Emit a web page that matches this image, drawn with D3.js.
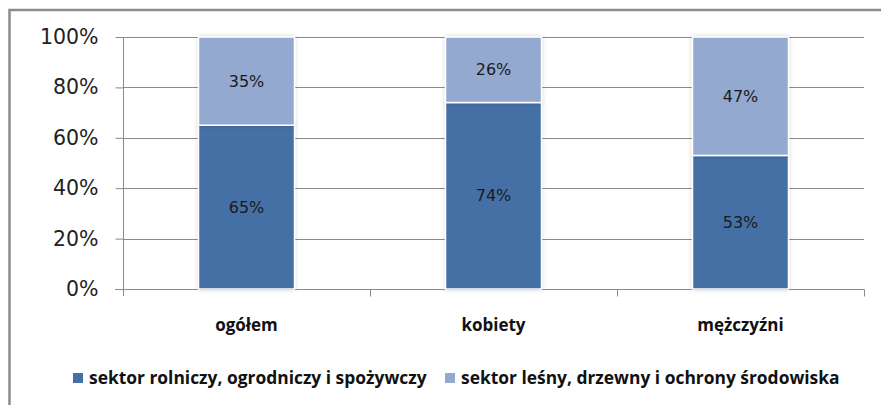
<!DOCTYPE html>
<html>
<head>
<meta charset="utf-8">
<script src="https://cdn.jsdelivr.net/npm/d3@7"></script>
<style>
  body { margin: 0; background: #fff; }
  svg { display: block; }
</style>
</head>
<body>
<div id="chart"></div>
<script>
// chart data
var categories = ['ogółem', 'kobiety', 'mężczyźni']
var seriesNames = ['sektor rolniczy, ogrodniczy i spożywczy', 'sektor leśny, drzewny i ochrony środowiska']
var rolniczy = [65, 74, 53]
var lesny = [35, 26, 47]
var yTicks = [0, 20, 40, 60, 80, 100]
var colors = ['#4470A6', '#93A9CF']

var width = 881, height = 405

var svg = d3.select('#chart').append('svg')
    .attr('width', width)
    .attr('height', height)

// soft shadow round the bars
var defs = svg.append('defs')
var f = defs.append('filter').attr('id', 'shadow')
    .attr('x', '-10%').attr('y', '-10%').attr('width', '120%').attr('height', '120%')
f.append('feDropShadow').attr('dx', 0).attr('dy', 0).attr('stdDeviation', 2)
    .attr('flood-color', '#000').attr('flood-opacity', 0.18)

// outer frame (bottom and right fall outside the picture)
svg.append('rect')
    .attr('x', 9.5).attr('y', 10).attr('width', 1000).attr('height', 500)
    .attr('fill', 'none').attr('stroke', '#8c8c8c').attr('stroke-width', 2.5)

var x = d3.scaleBand().domain(categories).range([123, 864]).paddingInner(0).paddingOuter(0)
var y = d3.scaleLinear().domain([0, 100]).range([289, 37])
var barW = 96

// gridlines
svg.append('g')
    .selectAll('line')
    .data(yTicks.slice(1))
    .enter()
    .append('line')
    .attr('x1', 123).attr('x2', 864)
    .attr('y1', function (d) { return Math.round(y(d)) + 0.5 })
    .attr('y2', function (d) { return Math.round(y(d)) + 0.5 })
    .attr('stroke', '#8a8a8a').attr('stroke-width', 1)

// y axis
var yAxis = svg.append('g')
    .attr('transform', 'translate(123.5,0)')
    .call(d3.axisLeft(y).tickValues(yTicks).tickSize(8).tickPadding(17)
        .tickFormat(function (d) { return d + '%' }))
yAxis.select('.domain').attr('stroke', '#8a8a8a').attr('d', 'M0,37V296')
yAxis.selectAll('.tick line').attr('stroke', '#8a8a8a')
yAxis.selectAll('text')
    .style('font-family', 'DejaVu Sans')
    .style('font-size', '20.5px')
    .attr('fill', '#222')

// x axis
var xAxis = svg.append('g')
    .attr('transform', 'translate(0,289.5)')
    .call(d3.axisBottom(x).tickSize(0).tickPadding(0).tickFormat(''))
xAxis.select('.domain').attr('stroke', '#8a8a8a').attr('d', 'M115,0H864')
xAxis.selectAll('.bnd')
    .data(categories)
    .enter()
    .append('line')
    .attr('x1', function (d) { return Math.round(x(d) + x.bandwidth()) + 0.5 })
    .attr('x2', function (d) { return Math.round(x(d) + x.bandwidth()) + 0.5 })
    .attr('y1', 0).attr('y2', 7)
    .attr('stroke', '#8a8a8a')

// category labels
svg.append('g')
    .selectAll('text')
    .data(categories)
    .enter()
    .append('text')
    .attr('x', function (d) { return x(d) + x.bandwidth() / 2 })
    .attr('y', 331)
    .attr('text-anchor', 'middle')
    .style('font-family', 'Open Sans')
    .style('font-weight', 'bold')
    .style('font-size', '17px')
    .attr('fill', '#111')
    .text(function (d) { return d })

// stacked bars
var rows = categories.map(function (c, i) { return { cat: c, a: rolniczy[i], b: lesny[i] } })
var stack = d3.stack().keys(['a', 'b'])(rows)

var bars = svg.append('g')
stack.forEach(function (layer, li) {
    bars.append('g')
        .selectAll('rect')
        .data(layer)
        .enter()
        .append('rect')
        .attr('x', function (d) { return x(d.data.cat) + x.bandwidth() / 2 - barW / 2 })
        .attr('y', function (d) { return y(d[1]) })
        .attr('width', barW)
        .attr('height', function (d) { return y(d[0]) - y(d[1]) })
        .attr('fill', colors[li])
        .attr('stroke', '#fff')
        .attr('stroke-width', 1.5)
        .attr('filter', 'url(#shadow)')
})

// value labels
stack.forEach(function (layer) {
    bars.append('g')
        .selectAll('text')
        .data(layer)
        .enter()
        .append('text')
        .attr('x', function (d) { return x(d.data.cat) + x.bandwidth() / 2 })
        .attr('y', function (d) { return (y(d[0]) + y(d[1])) / 2 })
        .attr('dy', '0.35em')
        .attr('text-anchor', 'middle')
        .style('font-family', 'DejaVu Sans')
        .style('font-size', '16px')
        .attr('fill', '#1a1a1a')
        .text(function (d) { return (d[1] - d[0]) + '%' })
})

// legend
var legendX = [73, 445]
var legend = svg.append('g')
seriesNames.forEach(function (name, i) {
    legend.append('rect')
        .attr('x', legendX[i]).attr('y', 373)
        .attr('width', 10).attr('height', 10)
        .attr('fill', colors[i])
    legend.append('text')
        .attr('x', legendX[i] + 16).attr('y', 384)
        .style('font-family', 'Open Sans')
        .style('font-weight', 'bold')
        .style('font-size', '17.4px')
        .attr('fill', '#111')
        .text(name)
})
</script>
</body>
</html>
